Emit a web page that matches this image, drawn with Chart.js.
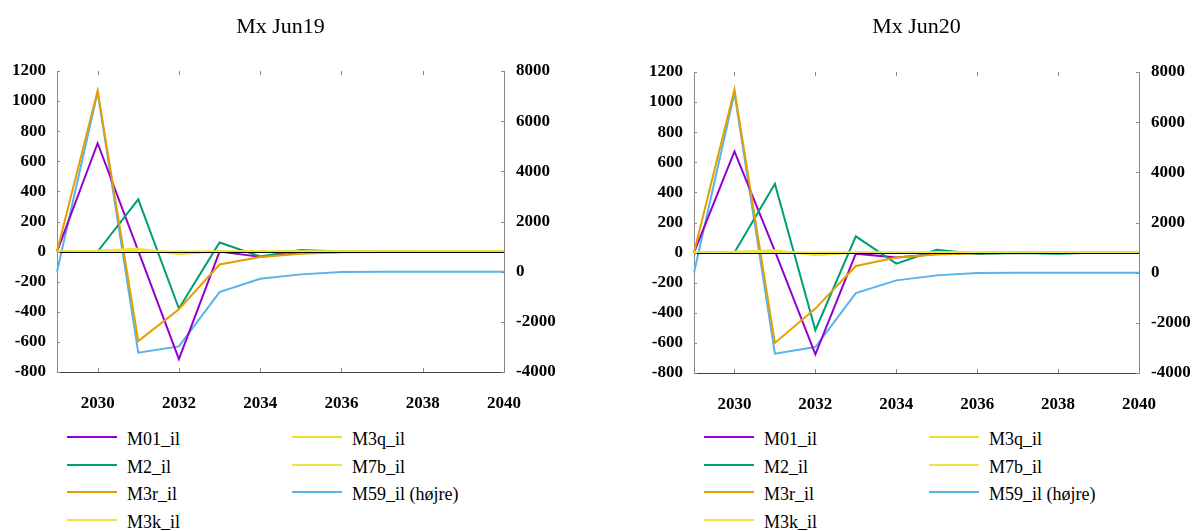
<!DOCTYPE html>
<html>
<head>
<meta charset="utf-8">
<script src="https://cdn.jsdelivr.net/npm/chart.js@4/dist/chart.umd.min.js"></script>
<style>
  html, body { margin: 0; padding: 0; background: #fff; }
  body { width: 1192px; height: 531px; position: relative; overflow: hidden;
         font-family: "Liberation Serif", "Times New Roman", serif; color: #000; }
  canvas { position: absolute; }
  .title { position: absolute; font-size: 22px; line-height: 22px; transform: translateX(-50%); white-space: nowrap; }
  .lg-line { position: absolute; height: 2px; }
  .lg-text { position: absolute; font-size: 18px; line-height: 18px; white-space: nowrap; }
</style>
</head>
<body>
<canvas id="c1" width="596" height="415" style="left:0px;top:0px;width:596px;height:415px"></canvas>
<canvas id="c2" width="555" height="416" style="left:637px;top:0px;width:555px;height:416px"></canvas>
<div id="legends"></div>

<script>
// Years on the x axis
const years = [2029, 2030, 2031, 2032, 2033, 2034, 2035, 2036, 2037, 2038, 2039, 2040];

// Series names and colours
const seriesNames = ['M01_il', 'M2_il', 'M3r_il', 'M3k_il', 'M3q_il', 'M7b_il', 'M59_il (højre)'];
const seriesColors = ['#9400D3', '#009E73', '#E69F00', '#F0E442', '#EEDD2E', '#F0E24A', '#56B4E9'];

// Panel titles
const titles = ['Mx Jun19', 'Mx Jun20'];

// Axis ranges
const leftTicks = { min: -800, max: 1200, step: 200 };
const rightTicks = { min: -4000, max: 8000, step: 2000 };

// Mx Jun19
const jun19_M01 = [0, 720, 5, -715, 0, -35, -10, -3, 0, 0, 0, 0];
const jun19_M2  = [0, 0, 347, -378, 60, -32, 10, 0, 0, 0, 0, 0];
const jun19_M3r = [0, 1070, -595, -383, -86, -36, -15, -5, -3, 0, 0, 0];
const jun19_M3k = [0, 5, 20, -18, 0, 0, 0, 0, 0, 0, 0, 0];
const jun19_M3q = [0, 0, 5, -5, 0, 0, 0, 0, 0, 0, 0, 0];
const jun19_M7b = [0, 0, 0, 0, 0, 0, 0, 0, 0, 0, 0, 0];
const jun19_M59 = [0, 7160, -3230, -2980, -813, -280, -108, -16, 0, 0, 0, 0];

// Mx Jun20
const jun20_M01 = [0, 673, 10, -676, -7, -33, -10, -3, 0, 0, 0, 0];
const jun20_M2  = [0, 0, 458, -516, 108, -73, 18, -10, -3, -8, 0, 0];
const jun20_M3r = [0, 1083, -600, -372, -89, -33, -12, -5, -3, 0, 0, 0];
const jun20_M3k = [0, 5, 15, -18, 0, 0, 0, 0, 0, 0, 0, 0];
const jun20_M3q = [0, 0, 4, -4, 0, 0, 0, 0, 0, 0, 0, 0];
const jun20_M7b = [0, 0, 0, 0, 0, 0, 0, 0, 0, 0, 0, 0];
const jun20_M59 = [0, 7160, -3230, -2966, -813, -307, -108, -16, 0, 0, 0, 0];

const panels = [
  { canvas: 'c1', title: titles[0], padTop: 71, yW: 57, y2W: 92, left: 0,
    series: [jun19_M01, jun19_M2, jun19_M3r, jun19_M3k, jun19_M3q, jun19_M7b, jun19_M59] },
  { canvas: 'c2', title: titles[1], padTop: 72, yW: 57, y2W: 53, left: 637,
    series: [jun20_M01, jun20_M2, jun20_M3r, jun20_M3k, jun20_M3q, jun20_M7b, jun20_M59] }
];

const tickFont = { family: '"Liberation Serif", "Times New Roman", serif', size: 17, weight: 'bold' };
const plain = v => String(v);

// Zero line on the left axis plus short inward tick marks on all four sides
const axisDecor = {
  id: 'axisDecor',
  afterDatasetsDraw(chart) {
    const { ctx, chartArea: a, scales } = chart;
    ctx.save();
    ctx.lineWidth = 1;
    ctx.strokeStyle = '#000';
    const y0 = Math.round(scales.y.getPixelForValue(0)) + 0.5;
    ctx.beginPath(); ctx.moveTo(a.left, y0); ctx.lineTo(a.right, y0); ctx.stroke();

    ctx.strokeStyle = '#888';
    ctx.beginPath();
    years.forEach((yr, i) => {
      if (yr % 2 === 0 && i < years.length - 1) {
        const x = Math.round(scales.x.getPixelForValue(i)) + 0.5;
        ctx.moveTo(x, a.bottom); ctx.lineTo(x, a.bottom - 4);
        ctx.moveTo(x, a.top); ctx.lineTo(x, a.top + 4);
      }
    });
    for (let v = leftTicks.min; v <= leftTicks.max; v += leftTicks.step) {
      const y = Math.round(scales.y.getPixelForValue(v)) + 0.5;
      ctx.moveTo(a.left, y); ctx.lineTo(a.left + 3, y);
    }
    for (let v = rightTicks.min; v <= rightTicks.max; v += rightTicks.step) {
      const y = Math.round(scales.y2.getPixelForValue(v)) + 0.5;
      ctx.moveTo(a.right, y); ctx.lineTo(a.right - 3, y);
    }
    ctx.stroke();
    ctx.restore();
  }
};

function makeChart(p) {
  const datasets = p.series.map((vals, i) => ({
    label: seriesNames[i],
    data: vals,
    borderColor: seriesColors[i],
    backgroundColor: seriesColors[i],
    yAxisID: i === 6 ? 'y2' : 'y',
    order: i === 6 ? 7 : 6 - i
  }));
  return new Chart(document.getElementById(p.canvas), {
    type: 'line',
    data: { labels: years.map(String), datasets },
    options: {
      responsive: false,
      animation: false,
      devicePixelRatio: 1,
      layout: { padding: { top: p.padTop, left: 0, right: 0, bottom: 0 } },
      plugins: { legend: { display: false }, tooltip: { enabled: false }, title: { display: false } },
      elements: { point: { radius: 0 }, line: { borderWidth: 2, tension: 0 } },
      scales: {
        x: {
          type: 'category', offset: false,
          grid: { display: false, drawTicks: false },
          border: { color: '#444', width: 1 },
          ticks: { autoSkip: false, maxRotation: 0, padding: 21, color: '#000', font: tickFont,
                   callback: (v, i) => (years[i] % 2 === 0 ? String(years[i]) : '') },
          afterFit: s => { s.height = 43; }
        },
        y: {
          position: 'left', min: leftTicks.min, max: leftTicks.max,
          grid: { display: false, drawTicks: false },
          border: { color: '#888', width: 1 },
          ticks: { stepSize: leftTicks.step, padding: 11, color: '#000', font: tickFont, callback: plain },
          afterFit: s => { s.width = p.yW; }
        },
        y2: {
          position: 'right', min: rightTicks.min, max: rightTicks.max,
          grid: { display: false, drawTicks: false },
          border: { color: '#888', width: 1 },
          ticks: { stepSize: rightTicks.step, padding: 12, color: '#000', font: tickFont, callback: plain },
          afterFit: s => { s.width = p.y2W; }
        }
      }
    },
    plugins: [axisDecor]
  });
}

const host = document.getElementById('legends');
panels.forEach(p => {
  const chart = makeChart(p);
  const a = chart.chartArea;
  // Title centred over the plot area
  const t = document.createElement('div');
  t.className = 'title';
  t.textContent = p.title;
  t.style.left = (p.left + (a.left + a.right) / 2) + 'px';
  t.style.top = '15px';
  host.appendChild(t);
  // Two-column legend: four entries in the first column, three in the second
  seriesNames.forEach((name, i) => {
    const col = i < 4 ? 0 : 1;
    const row = i < 4 ? i : i - 4;
    const lx = p.left + a.left + 10 + col * 225;
    const ly = 437 + row * 27.7;
    const ln = document.createElement('div');
    ln.className = 'lg-line';
    ln.style.left = lx + 'px';
    ln.style.top = (ly - 1) + 'px';
    ln.style.width = '50px';
    ln.style.background = seriesColors[i];
    host.appendChild(ln);
    const tx = document.createElement('div');
    tx.className = 'lg-text';
    tx.textContent = name;
    tx.style.left = (lx + 60) + 'px';
    tx.style.top = (ly - 7) + 'px';
    host.appendChild(tx);
  });
});
</script>
</body>
</html>
